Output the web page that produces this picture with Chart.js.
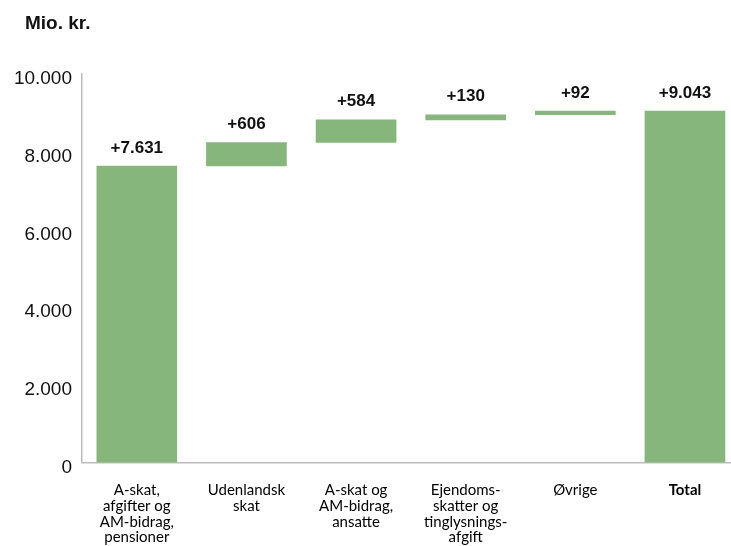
<!DOCTYPE html>
<html>
<head>
<meta charset="utf-8">
<script src="https://cdn.jsdelivr.net/npm/chart.js@4"></script>
<style>
    body { margin: 0; background: #fff; }
    #wrap { width: 731px; height: 546px; }
</style>
</head>
<body>
<div id="wrap"><canvas id="waterfallChart" width="731" height="546"></canvas></div>
<script>
const categories = [
    ['A-skat,', 'afgifter og', 'AM-bidrag,', 'pensioner'],
    ['Udenlandsk', 'skat'],
    ['A-skat og', 'AM-bidrag,', 'ansatte'],
    ['Ejendoms-', 'skatter og', 'tinglysnings-', 'afgift'],
    ['Øvrige'],
    ['Total']
];
const increments = [7631, 606, 584, 130, 92];
const total = 9043;
const yTicks = [0, 2000, 4000, 6000, 8000, 10000];

const BAR_COLOR = '#86b67c';
const AXIS_COLOR = '#bdbdbd';

function formatDK(n) {
    return String(n).replace(/\B(?=(\d{3})+(?!\d))/g, '.');
}

// floating bars: each step starts where the previous one ended
const bars = [];
let running = 0;
increments.forEach((v, i) => {
    bars.push({ x: i, y: [running, running + v] });
    running += v;
});
bars.push({ x: increments.length, y: [0, total] });
const barLabels = increments.concat([total]).map(v => '+' + formatDK(v));

const headerPlugin = {
    id: 'header',
    afterDraw(chart) {
        const ctx = chart.ctx;
        ctx.save();
        ctx.font = 'bold 19px "Liberation Sans", Arial, sans-serif';
        ctx.fillStyle = '#111';
        ctx.textAlign = 'left';
        ctx.textBaseline = 'middle';
        ctx.fillText('Mio. kr.', 25, 24);
        ctx.restore();
    }
};

const valueLabelPlugin = {
    id: 'valueLabels',
    afterDatasetsDraw(chart) {
        const ctx = chart.ctx;
        const meta = chart.getDatasetMeta(0);
        ctx.save();
        ctx.font = 'bold 17px "Liberation Sans Narrow", "Arial Narrow", sans-serif';
        ctx.fillStyle = '#111';
        ctx.textAlign = 'center';
        ctx.textBaseline = 'middle';
        meta.data.forEach((el, i) => {
            const top = Math.min(el.y, el.base);
            ctx.fillText(barLabels[i], el.x, top - 18);
        });
        ctx.restore();
    }
};

const chartCtx = document.getElementById('waterfallChart').getContext('2d');
new Chart(chartCtx, {
    type: 'bar',
    data: {
        datasets: [{
            data: bars,
            backgroundColor: BAR_COLOR,
            borderWidth: 0,
            barThickness: 80
        }]
    },
    options: {
        responsive: false,
        animation: false,
        layout: {
            padding: { top: 74, right: 0, bottom: 0, left: 0 }
        },
        plugins: {
            legend: { display: false },
            tooltip: { enabled: false }
        },
        scales: {
            x: {
                type: 'linear',
                offset: false,
                min: -0.5,
                max: 5.42,
                afterBuildTicks: axis => {
                    axis.ticks = categories.map((_, i) => ({ value: i }));
                },
                afterFit: axis => { axis.height = 83.5; },
                grid: { display: false, drawTicks: false },
                border: { display: true, color: AXIS_COLOR, width: 1.5 },
                ticks: {
                    autoSkip: false,
                    maxRotation: 0,
                    padding: 20,
                    color: '#000',
                    font: c => ({
                        family: 'Lato, "Noto Sans", sans-serif',
                        size: 15,
                        lineHeight: 1.05,
                        weight: c.index === categories.length - 1 ? 'bold' : 'normal'
                    }),
                    callback: value => categories[value]
                }
            },
            y: {
                min: 0,
                max: 10000,
                afterBuildTicks: axis => {
                    axis.ticks = yTicks.map(v => ({ value: v }));
                },
                afterFit: axis => { axis.width = 82; },
                grid: { display: false, drawTicks: false },
                border: { display: true, color: AXIS_COLOR, width: 1.5 },
                ticks: {
                    padding: 10,
                    labelOffset: 5,
                    color: '#111',
                    font: { family: '"Liberation Sans", Arial, sans-serif', size: 19 },
                    callback: value => formatDK(value)
                }
            }
        }
    },
    plugins: [headerPlugin, valueLabelPlugin]
});
</script>
</body>
</html>
